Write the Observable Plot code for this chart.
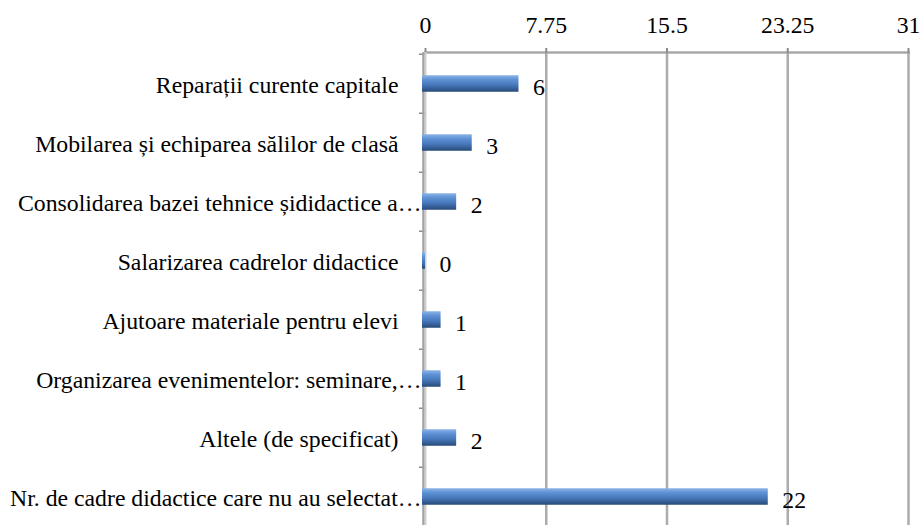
<!DOCTYPE html>
<html>
<head>
<meta charset="utf-8">
<script src="https://cdn.jsdelivr.net/npm/d3@7"></script>
<script src="https://cdn.jsdelivr.net/npm/@observablehq/plot@0.6"></script>
<style>
  html, body { margin: 0; padding: 0; background: #fff; overflow: hidden; }
  #chart svg { display: block; font-family: "Liberation Serif", "Times New Roman", serif !important; }
  #chart svg text, #chart svg g { font-family: "Liberation Serif", "Times New Roman", serif !important; }
</style>
</head>
<body>
<div id="chart"></div>
<script>
const categories = [
  "Reparații curente capitale",
  "Mobilarea și echiparea sălilor de clasă",
  "Consolidarea bazei tehnice șididactice a…",
  "Salarizarea cadrelor didactice",
  "Ajutoare materiale pentru elevi",
  "Organizarea evenimentelor: seminare,…",
  "Altele (de specificat)",
  "Nr. de cadre didactice care nu au selectat…"
];
const values = [6, 3, 2, 0, 1, 1, 2, 22];
const xTicks = [0, 7.75, 15.5, 23.25, 31];
const xTickLabels = ["0", "7.75", "15.5", "23.25", "31"];

const data = categories.map((c, i) => ({category: c, value: values[i]}));
const truncated = data.filter((d) => d.category.endsWith("…"));
const full = data.filter((d) => !d.category.endsWith("…"));

const W = 922, H = 528, MT = 52, MB = 0;
const step = (H - MT - MB) / categories.length;
const barH = 17;
const FS = 23.75;

const defs = () => {
  const d = d3.create("svg:defs");
  const g = d.append("linearGradient").attr("id", "barGrad")
    .attr("x1", 0).attr("x2", 0).attr("y1", 0).attr("y2", 1);
  g.append("stop").attr("offset", "0%").attr("stop-color", "#8cb4e6");
  g.append("stop").attr("offset", "25%").attr("stop-color", "#5f93d6");
  g.append("stop").attr("offset", "60%").attr("stop-color", "#4677ba");
  g.append("stop").attr("offset", "100%").attr("stop-color", "#284a78");
  return d.node();
};

const font = "Liberation Serif, Times New Roman, serif";

const chart = Plot.plot({
  width: W,
  height: H,
  marginTop: MT,
  marginBottom: MB,
  marginLeft: 425,
  marginRight: 14,
  style: {fontFamily: font, fontSize: FS + "px", color: "#000", background: "#fff"},
  x: {domain: [0, 31], axis: null, label: null},
  y: {domain: categories, padding: 0, axis: null, label: null},
  marks: [
    defs,
    // category labels (drawn first so the axis line covers overflow, as in the reference)
    Plot.text(full, {
      y: "category", text: "category", frameAnchor: "left",
      textAnchor: "end", dx: -27, dy: 1, fontSize: FS, fill: "#000", fontFamily: font
    }),
    Plot.text(truncated, {
      y: "category", text: "category", frameAnchor: "left",
      textAnchor: "end", dx: -4, dy: 1, fontSize: FS, fill: "#000", fontFamily: font
    }),
    Plot.ruleX(xTicks.slice(1), {stroke: "#ababab", strokeWidth: 2.5}),
    Plot.frame({anchor: "top", stroke: "#a8a8a8", strokeWidth: 2.5}),
    Plot.axisX({
      anchor: "top", ticks: xTicks, tickSize: 5, tickPadding: 15, label: null,
      stroke: "#8c8c8c", strokeWidth: 2,
      tickFormat: (d) => xTickLabels[xTicks.indexOf(d)],
      fontSize: FS, fill: "#000", fontFamily: font
    }),
    Plot.axisY({
      anchor: "left", tickSize: 6, dy: -step / 2, text: null, label: null,
      stroke: "#8c8c8c", strokeWidth: 1.5
    }),
    Plot.ruleX([0], {stroke: "#a2a2a2", strokeWidth: 2.5, dx: -2}),
    Plot.ruleX([0], {stroke: "#cfcfcf", strokeWidth: 2, dx: 0}),
    Plot.barX(data, {
      x: "value", y: "category",
      fill: "url(#barGrad)",
      insetTop: (step - barH) / 2, insetBottom: (step - barH) / 2,
      insetLeft: -3
    }),
    Plot.text(data, {
      x: "value", y: "category", text: (d) => String(d.value),
      dx: 14, dy: 3, textAnchor: "start", fontSize: FS, fill: "#000", fontFamily: font
    })
  ]
});

document.getElementById("chart").appendChild(chart);
</script>
</body>
</html>
